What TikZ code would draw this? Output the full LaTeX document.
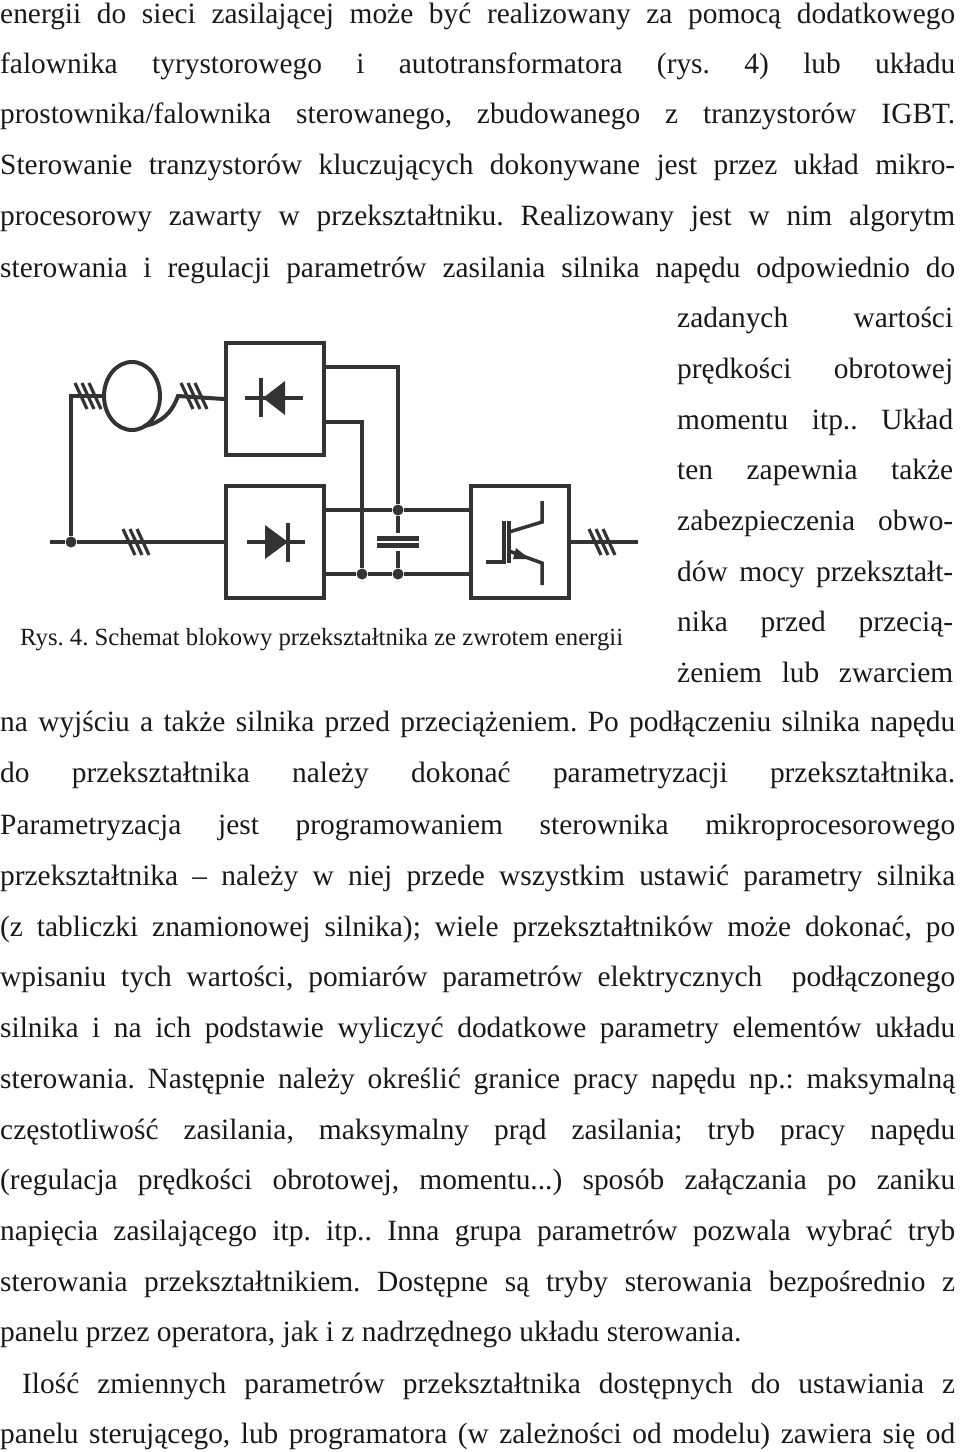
\documentclass[tikz,border=0pt]{standalone}
\usepackage{fontspec}
\setmainfont{Liberation Serif}
\usetikzlibrary{arrows.meta,shapes.geometric}
\newcommand\J[1]{\hbox to 955pt{#1}}
\newcommand\R[1]{\hbox to 276pt{#1}}
\frenchspacing
\begin{document}
\begin{tikzpicture}[x=1pt,y=-1pt,
 txt/.style={anchor=base west,inner sep=0,font=\fontsize{29.4}{32}\selectfont\frenchspacing,text=black!90},
 captxt/.style={anchor=base west,inner sep=0,font=\fontsize{24.7}{28}\selectfont,text=black!90},
 w/.style={line width=4pt,draw=black!80},
 blk/.style={w,minimum width=98pt,minimum height=112pt,inner sep=0},
 dot/.style={circle,fill=black!80,inner sep=0,minimum size=11pt},
 ticks/.pic={\foreach \d in {-7,0,7}{\draw[line width=3.2pt,draw=black!80] (\d-6,-13)--(\d+6,13);}}]
\useasboundingbox (0,0) rectangle (960,1452);
% text
\node[txt] (l1) at (0,23) {\J{energii do sieci zasilającej może być realizowany za pomocą dodatkowego}};
\node[txt] (l2) at (0,73) {\J{falownika tyrystorowego i autotransformatora (rys. 4) lub układu}};
\node[txt] (l3) at (0,123) {\J{prostownika/falownika sterowanego, zbudowanego z tranzystorów IGBT.}};
\node[txt] (l4) at (0,174) {\J{Sterowanie tranzystorów kluczujących dokonywane jest przez układ mikro-}};
\node[txt] (l5) at (0,225) {\J{procesorowy zawarty w przekształtniku. Realizowany jest w nim algorytm}};
\node[txt] (l6) at (0,277) {\J{sterowania i regulacji parametrów zasilania silnika napędu odpowiednio do}};
\node[txt] (r1) at (677,327) {\R{zadanych wartości}};
\node[txt] (r2) at (677,378) {\R{prędkości obrotowej}};
\node[txt] (r3) at (677,429) {\R{momentu itp.. Układ}};
\node[txt] (r4) at (677,479) {\R{ten zapewnia także}};
\node[txt] (r5) at (677,530) {\R{zabezpieczenia obwo-}};
\node[txt] (r6) at (677,581) {\R{dów mocy przekształt-}};
\node[txt] (r7) at (677,631) {\R{nika przed przecią-}};
\node[txt] (r8) at (677,682) {\R{żeniem lub zwarciem}};
\node[txt] (l7) at (0,731) {\J{na wyjściu a także silnika przed przeciążeniem. Po podłączeniu silnika napędu}};
\node[txt] (l8) at (0,782) {\J{do przekształtnika należy dokonać parametryzacji przekształtnika.}};
\node[txt] (l9) at (0,834) {\J{Parametryzacja jest programowaniem sterownika mikroprocesorowego}};
\node[txt] (l10) at (0,885) {\J{przekształtnika \textendash{} należy w niej przede wszystkim ustawić parametry silnika}};
\node[txt] (l11) at (0,936) {\J{(z tabliczki znamionowej silnika); wiele przekształtników może dokonać, po}};
\node[txt] (l12) at (0,986) {\J{wpisaniu tych wartości, pomiarów parametrów elektrycznych \ podłączonego}};
\node[txt] (l13) at (0,1037) {\J{silnika i na ich podstawie wyliczyć dodatkowe parametry elementów układu}};
\node[txt] (l14) at (0,1088) {\J{sterowania. Następnie należy określić granice pracy napędu np.: maksymalną}};
\node[txt] (l15) at (0,1139) {\J{częstotliwość zasilania, maksymalny prąd zasilania; tryb pracy napędu}};
\node[txt] (l16) at (0,1189) {\J{(regulacja prędkości obrotowej, momentu...) sposób załączania po zaniku}};
\node[txt] (l17) at (0,1240) {\J{napięcia zasilającego itp. itp.. Inna grupa parametrów pozwala wybrać tryb}};
\node[txt] (l18) at (0,1291) {\J{sterowania przekształtnikiem. Dostępne są tryby sterowania bezpośrednio z}};
\node[txt] (l19) at (0,1341) {panelu przez operatora, jak i z nadrzędnego układu sterowania.};
\node[txt] (l20) at (22,1393) {\hbox to 933pt{Ilość zmiennych parametrów przekształtnika dostępnych do ustawiania z}};
\node[txt] (l21) at (0,1443) {\J{panelu sterującego, lub programatora (w zależności od modelu) zawiera się od}};
\node[captxt] (caption) at (20,645) {Rys. 4. Schemat blokowy przekształtnika ze zwrotem energii};
% diagram
\node[blk] (b1) at (275,399) {};
\node[blk] (b2) at (275,542) {};
\node[blk] (b3) at (520,542) {};
\node[draw=black!80,line width=4pt,ellipse,minimum width=56pt,minimum height=68pt,inner sep=0] (m) at (132,396) {};
\coordinate (tail) at (178,396);
\coordinate (tl) at (71,396);
\node[dot] (j1) at (71,542) {};
\coordinate (in) at (50,542);
\coordinate (out) at (638,542);
\draw[w] (in) -- (j1) -- (b2.west);
\draw[w] (j1) -- (tl) -- (m.west);
\draw[w] ([shift={(12,-6)}]m.south) to[out=10,in=-110] (tail) -- (b1.west);
\draw[w] (b3.east) -- (out);
\pic at (88,396) {ticks};
\pic at (194,396) {ticks};
\pic at (136,542) {ticks};
\pic at (602,542) {ticks};
\node[dot] (d1) at (398,510) {};
\node[dot] (d2) at (398,574) {};
\node[dot] (d3) at (362,574) {};
\draw[w] (324,367) -- (398,367) -- (d1) -- (d2);
\draw[w] (324,422) -- (362,422) -- (d3);
\draw[w] (324,510) -- (d1) -- (471,510);
\draw[w] (324,574) -- (d3) -- (d2) -- (471,574);
\fill[white] (377,533) rectangle (419,551);
\fill[black!80] (377,536) rectangle (419,541);
\fill[black!80] (377,543) rectangle (419,548);
% thyristor in b1
\draw[w] (245,398) -- (303,398);
\draw[w] (261,378) -- (261,417);
\fill[black!80] (263,398) -- (285,381) -- (285,415) -- cycle;
% diode in b2
\draw[w] (247,542) -- (305,542);
\draw[w] (288,523) -- (288,562);
\fill[black!80] (288,542) -- (265,525) -- (265,559) -- cycle;
% IGBT in b3
\draw[line width=3.5pt,draw=black!80] (486,562) -- (504,562) -- (504,521);
\draw[line width=3.5pt,draw=black!80] (509,521) -- (509,563);
\draw[line width=3.5pt,draw=black!80] (509,532) -- (542,522) -- (542,501);
\draw[line width=3.5pt,draw=black!80] (509,551) -- (542,563) -- (542,585);
\fill[black!80] (530,559) -- (516,548) -- (513,559) -- cycle;
\end{tikzpicture}
\end{document}
